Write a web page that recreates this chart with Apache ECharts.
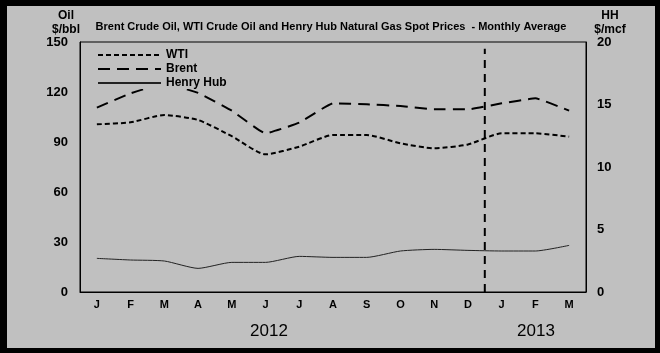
<!DOCTYPE html>
<html lang="en">
<head>
	<meta charset="UTF-8">
	<title>Brent, WTI and Henry Hub spot prices</title>
	<style type="text/css">
		body{ margin:0; }
		#wrap{
			width: 660px;
			height: 353px;
			background: #000;
			box-sizing: border-box;
			padding: 6px 5px 5px 7px;
		}
		#main{
			width: 648px;
			height: 342px;
		}
	</style>
</head>
<body>
	<div id="wrap"><div id="main"></div></div>
	<script type="text/javascript" src="https://cdn.jsdelivr.net/npm/echarts@6/dist/echarts.min.js"></script>
	<script type="text/javascript">
		// months Jan 2012 - Mar 2013
		var months = ['J','F','M','A','M','J','J','A','S','O','N','D','J','F','M'];
		// $/bbl
		var wti   = [100.6, 101.8, 106.2, 103.2, 93.5, 82.6, 87.2, 94.2, 94.2, 89.2, 86.2, 88.5, 95.2, 95.2, 93.2];
		var brent = [110.6, 119.2, 125.0, 119.5, 108.8, 95.2, 101.6, 113.2, 112.6, 111.6, 109.6, 109.6, 113.2, 116.2, 108.8];
		// $/mcf
		var henryHub = [2.69, 2.56, 2.48, 1.89, 2.37, 2.37, 2.85, 2.77, 2.77, 3.28, 3.41, 3.33, 3.28, 3.28, 3.73];
		// year break after December (12 months in)
		var yearBreak = [[12, 0], [12, 146]];
		var years = ['2012', '2013'];

		var myChart = echarts.init(document.getElementById('main'));
		var bold = {fontFamily: 'Liberation Sans, Arial', fontWeight: 'bold', color: '#000'};
		var yearStyle = {fontFamily: 'Liberation Sans, Arial', fontSize: 17, fontWeight: 'normal', color: '#000'};

		var option = {
			backgroundColor: '#C0C0C0',
			animation: false,
			title: [
				{
					text: 'Brent Crude Oil, WTI Crude Oil and Henry Hub Natural Gas Spot Prices  - Monthly Average',
					left: 'center', top: 15, padding: 0,
					textStyle: Object.assign({fontSize: 11}, bold)
				},
				{
					text: 'Oil\n$/bbl', left: 59, top: 3, padding: 0, textAlign: 'center',
					textStyle: Object.assign({fontSize: 12, lineHeight: 14}, bold)
				},
				{
					text: 'HH\n$/mcf', left: 603, top: 3, padding: 0, textAlign: 'center',
					textStyle: Object.assign({fontSize: 12, lineHeight: 14}, bold)
				},
				{text: years[0], left: 262, top: 317, padding: 0, textAlign: 'center', textStyle: yearStyle},
				{text: years[1], left: 529, top: 317, padding: 0, textAlign: 'center', textStyle: yearStyle}
			],
			legend: {
				orient: 'vertical',
				left: 90, top: 43,
				itemWidth: 63, itemHeight: 14, itemGap: 2,
				padding: [0, 6, 0, 0],
				backgroundColor: '#C0C0C0',
				itemStyle: {opacity: 0},
				textStyle: Object.assign({fontSize: 12}, bold),
				data: ['WTI', 'Brent', 'Henry Hub']
			},
			grid: {
				left: 73, right: 69, top: 36, bottom: 56,
				show: true, borderColor: '#000', borderWidth: 1, backgroundColor: 'transparent'
			},
			xAxis: [
				{
					type: 'category',
					data: months,
					boundaryGap: true,
					axisLine: {lineStyle: {color: '#000'}},
					axisTick: {show: false},
					axisLabel: Object.assign({fontSize: 11, margin: 7}, bold)
				},
				{
					// helper axis for the year divider
					type: 'value', min: 0, max: months.length, show: false
				}
			],
			yAxis: [
				{
					type: 'value', min: 0, max: 150, interval: 30,
					axisLine: {show: true, lineStyle: {color: '#000'}},
					axisTick: {show: false},
					splitLine: {show: false},
					axisLabel: Object.assign({fontSize: 13, margin: 12}, bold)
				},
				{
					type: 'value', min: 0, max: 20, interval: 5,
					axisLine: {show: true, lineStyle: {color: '#000'}},
					axisTick: {show: false},
					splitLine: {show: false},
					axisLabel: Object.assign({fontSize: 13, margin: 11}, bold)
				}
			],
			series: [
				{
					name: 'WTI', type: 'line', data: wti,
					symbol: 'none', smooth: 0.2, color: '#000',
					lineStyle: {color: '#000', width: 2, type: [5, 3]}
				},
				{
					name: 'Brent', type: 'line', data: brent,
					symbol: 'none', smooth: 0.1, color: '#000',
					lineStyle: {color: '#000', width: 2, type: [12, 7]}
				},
				{
					name: 'Henry Hub', type: 'line', data: henryHub, yAxisIndex: 1,
					symbol: 'none', smooth: 0.2, color: '#222',
					lineStyle: {color: '#222', width: 1}
				},
				{
					name: 'divider', type: 'line', data: yearBreak,
					xAxisIndex: 1, yAxisIndex: 0,
					symbol: 'none', silent: true,
					lineStyle: {color: '#000', width: 2, type: [8, 6]}
				}
			]
		};
		myChart.setOption(option);
	</script>
</body>
</html>
